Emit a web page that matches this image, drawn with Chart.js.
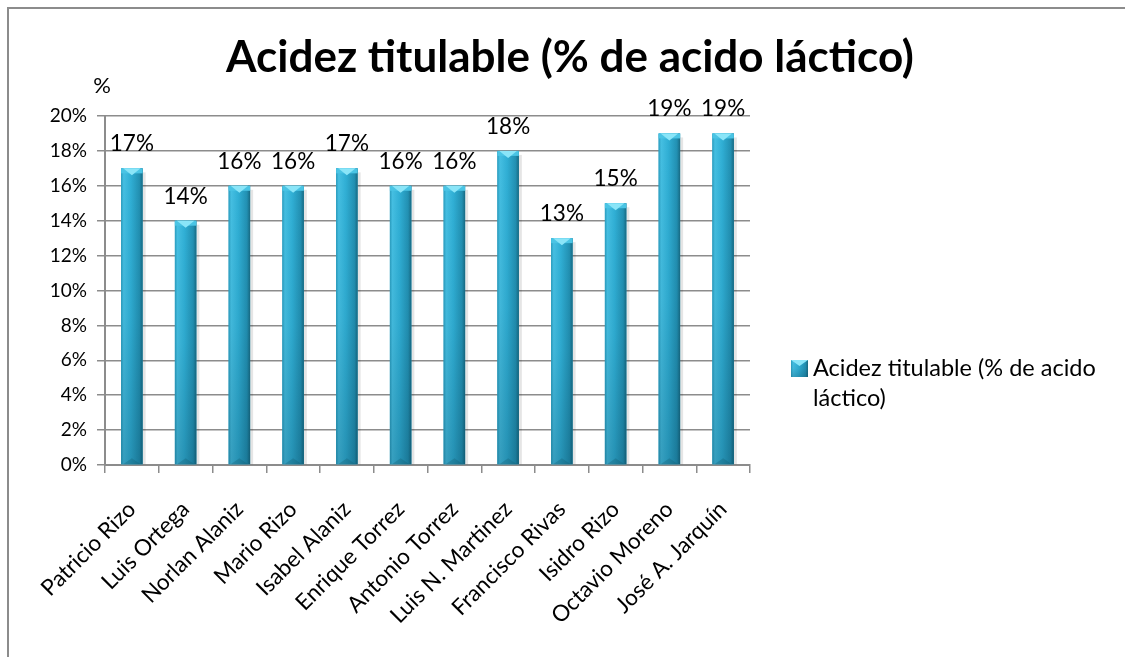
<!DOCTYPE html>
<html>
<head>
<meta charset="utf-8">
<title>Acidez titulable</title>
<script src="https://cdn.jsdelivr.net/npm/chart.js@4.4.0/dist/chart.umd.min.js"></script>
<style>
  html, body { margin: 0; padding: 0; background: #fff; overflow: hidden; }
  #wrap { position: absolute; left: 0; top: 0; width: 1125px; height: 657px; overflow: hidden; }
  #frame { position: absolute; left: 7px; top: 7px; width: 1140px; height: 700px;
           border: 2px solid #8c8c8c; box-sizing: border-box; }
  #chart { position: absolute; left: 0; top: 0; }
</style>
</head>
<body>
<div id="wrap">
  <div id="frame"></div>
  <canvas id="chart" width="1125" height="657"></canvas>
</div>
<script>
// Muestras de cada productor
const productores = [
  'Patricio Rizo', 'Luis Ortega', 'Norlan Alaniz', 'Mario Rizo', 'Isabel Alaniz',
  'Enrique Torrez', 'Antonio Torrez', 'Luis N. Martinez', 'Francisco Rivas',
  'Isidro Rizo', 'Octavio Moreno', 'José A. Jarquín'
];
// Acidez titulable, en % de ácido láctico
const acidez = [17, 14, 16, 16, 17, 16, 16, 18, 13, 15, 19, 19];

const tituloGrafico = 'Acidez titulable (% de acido láctico)';
const nombreSerie = ['Acidez titulable (% de acido', 'láctico)'];
const unidadEje = '%';

const FONT = 'Lato, "Open Sans", "DejaVu Sans", sans-serif';

// Relleno con aspecto de columna en relieve
function shadeColumn(ctx, left, top, right, bottom) {
  const w = right - left;
  const h = bottom - top;
  const hg = ctx.createLinearGradient(left, 0, right, 0);
  hg.addColorStop(0.00, '#2a9cbe');
  hg.addColorStop(0.12, '#45bfe2');
  hg.addColorStop(0.45, '#30afd5');
  hg.addColorStop(0.85, '#2290b2');
  hg.addColorStop(1.00, '#176a83');
  ctx.fillStyle = hg;
  ctx.fillRect(left, top, w, h);
  const vg = ctx.createLinearGradient(0, top, 0, bottom);
  vg.addColorStop(0, 'rgba(0,40,60,0)');
  vg.addColorStop(0.5, 'rgba(0,40,60,0.05)');
  vg.addColorStop(1, 'rgba(0,40,60,0.22)');
  ctx.fillStyle = vg;
  ctx.fillRect(left, top, w, h);
}

const columnStyle = {
  id: 'columnStyle',
  afterDatasetsDraw(chart) {
    const ctx = chart.ctx;
    const meta = chart.getDatasetMeta(0);
    ctx.save();
    meta.data.forEach((bar) => {
      const left = bar.x - bar.width / 2;
      const right = bar.x + bar.width / 2;
      const top = bar.y;
      const bottom = bar.base;
      // sombra suave a la derecha
      ctx.fillStyle = 'rgba(0,0,0,0.10)';
      ctx.fillRect(right, top + 4, 3, bottom - top - 4);
      shadeColumn(ctx, left, top, right, bottom);
      // remate superior en forma de pirámide
      ctx.fillStyle = '#4ac4e4';
      ctx.fillRect(left, top, right - left, 5);
      ctx.beginPath();
      ctx.moveTo(left + 2, top);
      ctx.lineTo(right - 2, top);
      ctx.lineTo(bar.x, top + 7);
      ctx.closePath();
      ctx.fillStyle = '#8ae5f8';
      ctx.fill();
      // base ligeramente oscurecida
      ctx.beginPath();
      ctx.moveTo(left + 2, bottom);
      ctx.lineTo(right - 2, bottom);
      ctx.lineTo(bar.x, bottom - 6);
      ctx.closePath();
      ctx.fillStyle = 'rgba(20,90,110,0.30)';
      ctx.fill();
    });
    ctx.restore();
  }
};

const valueLabels = {
  id: 'valueLabels',
  afterDatasetsDraw(chart) {
    const ctx = chart.ctx;
    const meta = chart.getDatasetMeta(0);
    ctx.save();
    ctx.font = '22.5px ' + FONT;
    ctx.fillStyle = '#000';
    ctx.textAlign = 'center';
    ctx.textBaseline = 'alphabetic';
    meta.data.forEach((bar, i) => {
      ctx.fillText(acidez[i] + '%', bar.x, bar.y - 17);
    });
    ctx.restore();
  }
};

const decorations = {
  id: 'decorations',
  afterDraw(chart) {
    const ctx = chart.ctx;
    const yScale = chart.scales.y;
    ctx.save();
    ctx.fillStyle = '#000';
    // título
    ctx.font = 'bold 44px ' + FONT;
    ctx.textAlign = 'center';
    ctx.textBaseline = 'alphabetic';
    ctx.fillText(tituloGrafico, 570, 72);
    // unidad del eje vertical
    ctx.font = '22px ' + FONT;
    ctx.fillText(unidadEje, yScale.right - 3, yScale.top - 23);
    // leyenda
    const lx = chart.chartArea.right + 41;
    const ly = 360;
    const sq = 17;
    shadeColumn(ctx, lx, ly, lx + sq, ly + sq);
    ctx.beginPath();
    ctx.moveTo(lx, ly);
    ctx.lineTo(lx + sq, ly);
    ctx.lineTo(lx + sq / 2, ly + 6);
    ctx.closePath();
    ctx.fillStyle = '#8ae5f8';
    ctx.fill();
    ctx.fillStyle = '#000';
    ctx.font = '23.5px ' + FONT;
    ctx.textAlign = 'left';
    ctx.fillText(nombreSerie[0], lx + 22, 376);
    ctx.fillText(nombreSerie[1], lx + 22, 406);
    ctx.restore();
  }
};

new Chart(document.getElementById('chart'), {
  type: 'bar',
  data: {
    labels: productores,
    datasets: [{
      label: nombreSerie.join(' '),
      data: acidez,
      backgroundColor: '#2ba6c9',
      borderWidth: 0,
      barPercentage: 0.40,
      categoryPercentage: 1.0
    }]
  },
  options: {
    responsive: false,
    animation: false,
    devicePixelRatio: 1,
    layout: { padding: { top: 116, right: 375, left: 0, bottom: 0 } },
    plugins: {
      legend: { display: false },
      title: { display: false },
      tooltip: { enabled: false }
    },
    scales: {
      x: {
        afterFit(scale) { scale.height = 192; },
        grid: {
          display: true,
          drawOnChartArea: false,
          drawTicks: true,
          tickLength: 8,
          color: '#8c8c8c',
          lineWidth: 1.5
        },
        border: { display: true, color: '#8c8c8c', width: 2 },
        ticks: {
          color: '#000',
          font: { family: FONT, size: 22.5 },
          autoSkip: false,
          maxRotation: 45,
          minRotation: 45,
          padding: 23
        }
      },
      y: {
        min: 0,
        max: 20,
        afterFit(scale) { scale.width = 105; },
        grid: {
          color: '#8c8c8c',
          lineWidth: 1.5,
          drawTicks: true,
          tickLength: 8
        },
        border: { display: true, color: '#8c8c8c', width: 2 },
        ticks: {
          stepSize: 2,
          color: '#000',
          font: { family: FONT, size: 19 },
          padding: 10,
          callback: (v) => v + '%'
        }
      }
    }
  },
  plugins: [columnStyle, valueLabels, decorations]
});
</script>
</body>
</html>
